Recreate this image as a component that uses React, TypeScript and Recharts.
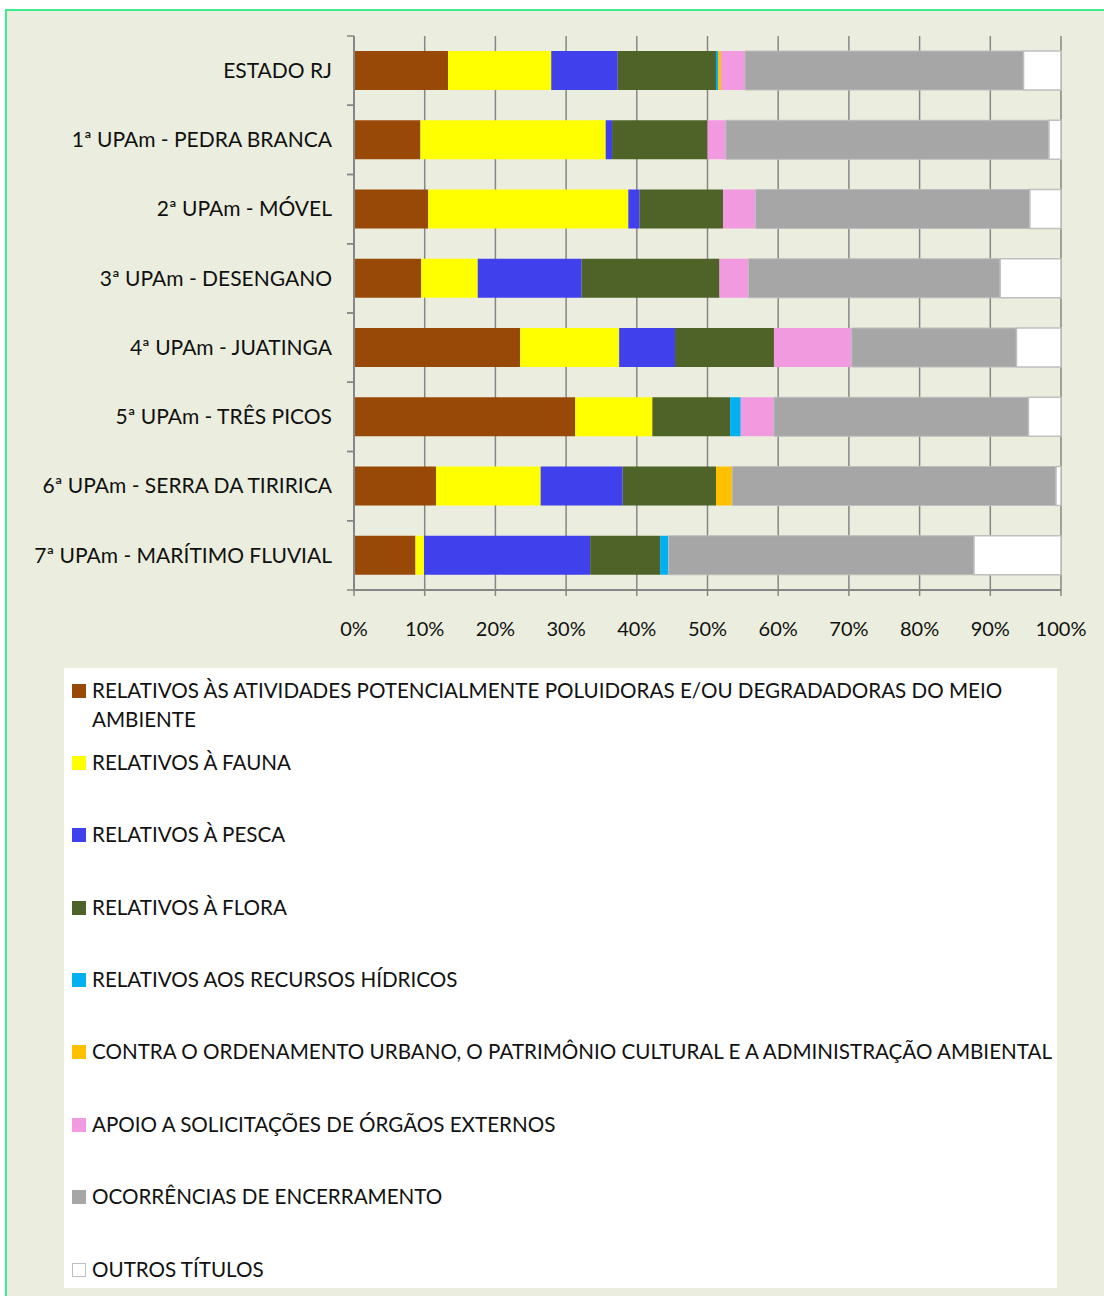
import { BarChart, Bar, XAxis, YAxis, CartesianGrid, Legend } from "recharts"

const CATEGORIES = [
  "ESTADO RJ",
  "1ª UPAm - PEDRA BRANCA",
  "2ª UPAm - MÓVEL",
  "3ª UPAm - DESENGANO",
  "4ª UPAm - JUATINGA",
  "5ª UPAm - TRÊS PICOS",
  "6ª UPAm - SERRA DA TIRIRICA",
  "7ª UPAm - MARÍTIMO FLUVIAL",
]

const SERIES_NAMES = [
  "RELATIVOS ÀS ATIVIDADES POTENCIALMENTE POLUIDORAS E/OU DEGRADADORAS DO MEIO AMBIENTE",
  "RELATIVOS À FAUNA",
  "RELATIVOS À PESCA",
  "RELATIVOS À FLORA",
  "RELATIVOS AOS RECURSOS HÍDRICOS",
  "CONTRA O ORDENAMENTO URBANO, O PATRIMÔNIO CULTURAL E A ADMINISTRAÇÃO AMBIENTAL",
  "APOIO A SOLICITAÇÕES DE ÓRGÃOS EXTERNOS",
  "OCORRÊNCIAS DE ENCERRAMENTO",
  "OUTROS TÍTULOS",
]

const SERIES_COLORS = [
  "#984807",
  "#FFFF00",
  "#4040EC",
  "#4F6228",
  "#00B0F0",
  "#FFC000",
  "#F29ADF",
  "#A6A6A6",
  "#FFFFFF",
]

const ATIVIDADES = [13.3, 9.4, 10.5, 9.5, 23.5, 31.3, 11.6, 8.7]
const FAUNA = [14.6, 26.2, 28.3, 8.0, 14.0, 10.9, 14.8, 1.2]
const PESCA = [9.4, 0.9, 1.6, 14.7, 7.9, 0, 11.6, 23.5]
const FLORA = [13.9, 13.5, 11.8, 19.5, 14.0, 11.0, 13.2, 9.9]
const HIDRICOS = [0.3, 0, 0, 0, 0, 1.5, 0, 1.2]
const ORDENAMENTO = [0.4, 0, 0, 0, 0, 0, 2.3, 0]
const APOIO = [3.4, 2.6, 4.6, 4.1, 11.0, 4.7, 0, 0]
const ENCERRAMENTO = [39.4, 45.7, 38.8, 35.6, 23.3, 36.0, 45.8, 43.2]
const OUTROS = [5.3, 1.7, 4.4, 8.6, 6.3, 4.6, 0.7, 12.3]

const X_TICKS = [0, 0.1, 0.2, 0.3, 0.4, 0.5, 0.6, 0.7, 0.8, 0.9, 1]

const SERIES_VALUES = [ATIVIDADES, FAUNA, PESCA, FLORA, HIDRICOS, ORDENAMENTO, APOIO, ENCERRAMENTO, OUTROS]

const data = CATEGORIES.map((name, i) => {
  const row: Record<string, string | number> = { name }
  SERIES_VALUES.forEach((vals, s) => {
    row["s" + s] = vals[i]
  })
  return row
})

const FONT = "Lato, 'Open Sans', sans-serif"
const W = 1104
const H = 1296
const PLOT_LEFT = 354
const PLOT_TOP = 36
const PLOT_BOTTOM = 590
const BAND = (PLOT_BOTTOM - PLOT_TOP) / CATEGORIES.length
const AXIS_GRAY = "#868686"

function CategoryTick(props: any) {
  const { y, payload } = props
  return (
    <g>
      <line x1={PLOT_LEFT - 7} x2={PLOT_LEFT} y1={y - BAND / 2} y2={y - BAND / 2} stroke={AXIS_GRAY} strokeWidth={1.5} />
      <line x1={PLOT_LEFT - 7} x2={PLOT_LEFT} y1={y + BAND / 2} y2={y + BAND / 2} stroke={AXIS_GRAY} strokeWidth={1.5} />
      <text x={PLOT_LEFT - 22} y={y} dy="0.35em" textAnchor="end" fontFamily={FONT} fontSize={21} fill="#111">
        {payload.value}
      </text>
    </g>
  )
}

function LegendBox() {
  return (
    <div style={{ position: "relative", width: 993, height: 620, background: "#fff", fontFamily: FONT, fontSize: 20.6, color: "#111" }}>
      {SERIES_NAMES.map((name, i) => (
        <div key={i} style={{ position: "absolute", left: 0, top: 7.5 + i * 72.375, width: 993, lineHeight: "29px" }}>
          <span
            style={{
              position: "absolute",
              left: 8,
              top: 8,
              width: i === 8 ? 12 : 14,
              height: i === 8 ? 12 : 14,
              background: SERIES_COLORS[i],
              border: i === 8 ? "1px solid #BFBFBF" : "none",
            }}
          />
          <div style={{ marginLeft: 28, width: 965, textAlign: "left", whiteSpace: i === 0 ? "normal" : "nowrap" }}>
            {name}
          </div>
        </div>
      ))}
    </div>
  )
}

export default function App() {
  return (
    <div style={{ position: "absolute", left: 0, top: 0, width: W, height: H, overflow: "hidden", background: "#fff" }}>
      <div
        style={{
          position: "absolute",
          left: 5,
          top: 9,
          width: W + 20,
          height: H + 20,
          border: "2px solid #3CEB8A",
          background: "#EBEEDE",
        }}
      />
      <div style={{ position: "absolute", left: 0, top: 0 }}>
        <BarChart
          width={W}
          height={H}
          data={data}
          layout="vertical"
          stackOffset="expand"
          barSize={39}
          margin={{ top: PLOT_TOP, right: W - 1061, bottom: H - PLOT_BOTTOM - 40, left: 0 }}
        >
          <CartesianGrid horizontal={false} stroke={AXIS_GRAY} strokeWidth={1.5} />
          <XAxis
            type="number"
            domain={[0, 1]}
            ticks={X_TICKS}
            height={40}
            tickFormatter={(v: number) => `${Math.round(v * 100)}%`}
            axisLine={{ stroke: AXIS_GRAY, strokeWidth: 2 }}
            tickLine={{ stroke: AXIS_GRAY, strokeWidth: 1.5 }}
            tickSize={6}
            tickMargin={26}
            tick={{ fontFamily: FONT, fontSize: 20, fill: "#111" }}
            interval={0}
          />
          <YAxis
            type="category"
            dataKey="name"
            width={PLOT_LEFT}
            axisLine={{ stroke: AXIS_GRAY, strokeWidth: 2 }}
            tickLine={false}
            tick={<CategoryTick />}
            interval={0}
          />
          {SERIES_NAMES.map((name, i) => (
            <Bar
              key={i}
              dataKey={"s" + i}
              name={name}
              stackId="a"
              fill={SERIES_COLORS[i]}
              stroke={i === 8 ? "#BFBFBF" : i === 7 ? "#BDBDBD" : "none"}
              strokeWidth={i === 8 ? 1.5 : 1}
              isAnimationActive={false}
            />
          ))}
          <Legend
            layout="horizontal"
            verticalAlign="middle"
            align="center"
            content={() => <LegendBox />}
            wrapperStyle={{ left: 64, top: 668, width: 993, height: 620 }}
          />
        </BarChart>
      </div>
    </div>
  )
}
